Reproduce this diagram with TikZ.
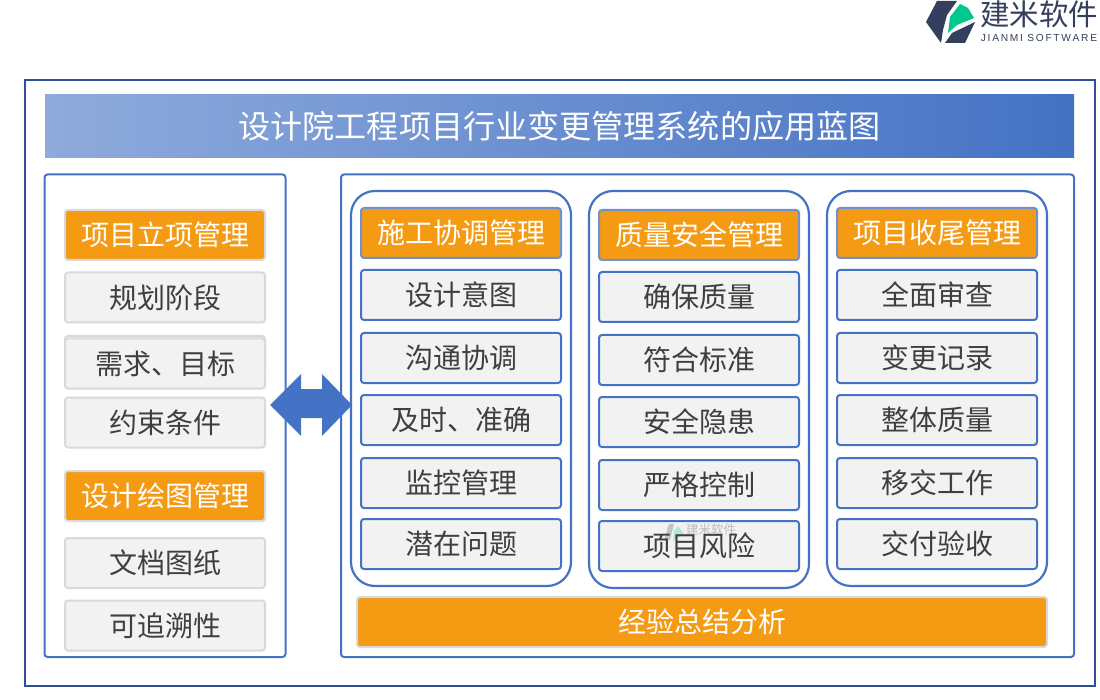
\documentclass[tikz,border=0pt]{standalone}
\usepackage{fontspec}
\setmainfont{Noto Sans CJK SC}
\newfontfamily\latinfont{Liberation Sans}
\usepackage{tikz}

\definecolor{framedark}{HTML}{2F5096}
\definecolor{panelblue}{HTML}{4472C4}
\definecolor{headorange}{HTML}{F59A13}
\definecolor{itemgray}{HTML}{F2F2F2}
\definecolor{edgegray}{HTML}{D9D9D9}
\definecolor{inkdark}{HTML}{3F3F3F}
\definecolor{logodark}{HTML}{333F5C}
\definecolor{logogreen}{HTML}{00C88C}

\tikzset{
    panel/.style={draw=panelblue,line width=2pt,fill=white,rounded corners=3pt},
    column/.style={draw=panelblue,line width=2.2pt,rounded corners=24pt},
    card/.style={rectangle,rounded corners=3pt,line width=2pt,inner sep=0pt,
        minimum width=200pt,minimum height=50pt,font=\fontsize{28}{28}\selectfont},
    headcard/.style={card,fill=headorange,text=white,draw=edgegray},
    headblue/.style={headcard,draw=panelblue!70!edgegray},
    itemcard/.style={card,fill=itemgray,text=inkdark,draw=edgegray},
    itemblue/.style={itemcard,draw=panelblue},
}

\begin{document}
\begin{tikzpicture}[x=1pt,y=-1pt]
    \useasboundingbox (0,0) rectangle (1100,700);

    % logo
    \fill[logodark] (937,1) -- (957,1) -- (947,15) -- (943,30) -- (941,43) -- (926,22) -- cycle;
    \fill[logogreen] (948,33) -- (950,17) -- (960,4) -- (968,8) -- (974,18) -- (957,25) -- cycle;
    \fill[logodark] (945,43) -- (952,33) -- (975,22) -- (965,43) -- cycle;
    \node[text=logodark,font=\fontsize{29.5}{29.5}\selectfont,inner sep=0pt] (logotext) at (1039,14) {建米软件};
    \node[text=logodark,font=\latinfont\fontsize{10.2}{10.2}\selectfont,inner sep=0pt] (logosub) at (1039,38) {J\,I\,A\,N\,M\,I\, S\,O\,F\,T\,W\,A\,R\,E};

    % frame and title
    \draw[framedark,line width=1.8pt] (25,80) rectangle (1095,686);
    \node[left color=panelblue!60!white,right color=panelblue,text=white,inner sep=0pt,
        minimum width=1029pt,minimum height=63pt,font=\fontsize{32.1}{32.1}\selectfont] (title) at (559.5,126) {设计院工程项目行业变更管理系统的应用蓝图};

    % panels
    \draw[panel] (44.5,174.5) rectangle (285.5,657);
    \draw[panel] (341,174.5) rectangle (1074,657);
    \draw[column] (351,191) rectangle (571,586);
    \draw[column] (589,191) rectangle (809,588);
    \draw[column] (827,191) rectangle (1047,586);

    % left panel
    \node[headcard] (headplan) at (165,235) {项目立项管理};
    \node[itemcard] (planstage) at (165,297.5) {规划阶段};
    \node[itemcard,minimum height=40pt] (goalback) at (165,356) {};
    \node[itemcard] (goal) at (165,363.5) {需求、目标};
    \node[itemcard] (limit) at (165,422.5) {约束条件};
    \node[headcard] (headdraw) at (165,496) {设计绘图管理};
    \node[itemcard] (paper) at (165,563) {文档图纸};
    \node[itemcard] (trace) at (165,625.5) {可追溯性};

    % double arrow
    \fill[panelblue] (270,405) -- (301,374) -- (301,389) -- (322,389) -- (322,374) -- (352,405)
        -- (322,436) -- (322,418) -- (301,418) -- (301,436) -- cycle;

    % columns
    \node[headblue] (headbuild) at (461,233) {施工协调管理};
    \foreach \y/\name/\txt in {295/intent/设计意图,358/talk/沟通协调,420/timely/及时、准确,483/watch/监控管理,544/issue/潜在问题}
        \node[itemblue] (\name) at (461,\y) {\txt};

    \node[headblue] (headsafe) at (699,235) {质量安全管理};
    \foreach \y/\name/\txt in {297/quality/确保质量,360/norm/符合标准,422/danger/安全隐患,485/strict/严格控制}
        \node[itemblue] (\name) at (699,\y) {\txt};
    \node[itemblue] (risk) at (699,546) {};

    % watermark
    \begin{scope}[opacity=0.45]
        \fill[logodark!60] (669,524) -- (674,524) -- (670,540) -- (664,540) -- cycle;
        \fill[logogreen!60] (673,541) -- (674,531) -- (678,526) -- (684,534) -- cycle;
        \node[text=logodark!70,font=\fontsize{12.5}{12.5}\selectfont,inner sep=0pt] (marktext) at (711,530) {建米软件};
    \end{scope}
    \node[text=inkdark,font=\fontsize{28}{28}\selectfont,inner sep=0pt] (risktext) at (risk) {项目风险};

    \node[headblue] (headclose) at (937,233) {项目收尾管理};
    \foreach \y/\name/\txt in {295/review/全面审查,358/record/变更记录,420/whole/整体质量,483/handover/移交工作,544/accept/交付验收}
        \node[itemblue] (\name) at (937,\y) {\txt};

    % bottom bar
    \node[headcard,minimum width=690pt] (summary) at (702,622) {经验总结分析};
\end{tikzpicture}
\end{document}
